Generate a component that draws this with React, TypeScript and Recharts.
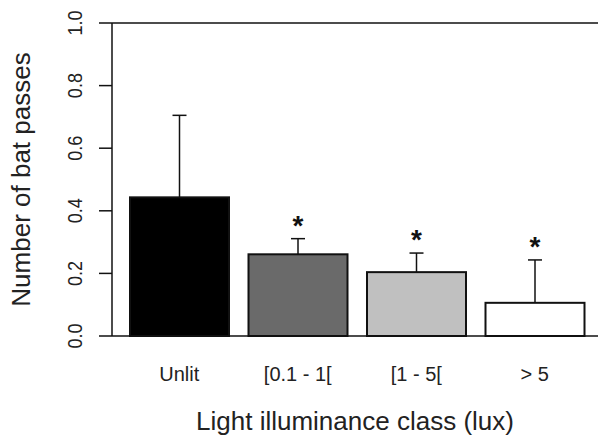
import React from 'react';
import { BarChart, Bar, XAxis, YAxis, ReferenceLine, Cell } from 'recharts';

const categories = ['Unlit', '[0.1 - 1[', '[1 - 5[', '> 5'];
const means = [0.443, 0.261, 0.204, 0.106];
const upperBounds = [0.705, 0.311, 0.265, 0.243];
const significant = [false, true, true, true];
const fills = ['#000000', '#6a6a6a', '#c0c0c0', '#ffffff'];
const yTicks = [0, 0.2, 0.4, 0.6, 0.8, 1.0];

const data = categories.map((name, i) => ({ name, value: means[i] }));

const FONT = '"Liberation Sans", Arial, sans-serif';
const TEXT = '#222222';

// bar + upper whisker + significance star
const BarWithError = (props: any) => {
  const { x, y, width, height, index } = props;
  const base = y + height;
  const pxPerUnit = height / means[index];
  const errY = base - upperBounds[index] * pxPerUnit;
  const cx = x + width / 2;
  return (
    <g>
      <line x1={cx} x2={cx} y1={y} y2={errY} stroke="#111" strokeWidth={1.5} />
      <line x1={cx - 7} x2={cx + 7} y1={errY} y2={errY} stroke="#111" strokeWidth={1.5} />
      <rect x={x} y={y} width={width} height={height} fill={fills[index]} stroke="#111" strokeWidth={2} />
      {significant[index] && (
        <text x={cx} y={errY - 4} textAnchor="middle" fontSize={28} fontWeight="bold" fontFamily={FONT} fill="#111">
          *
        </text>
      )}
    </g>
  );
};

// rotated, slightly condensed tick labels like the R original
const YTick = (props: any) => {
  const { x, y, payload } = props;
  const tx = x - 15;
  return (
    <text
      x={0}
      y={0}
      transform={`translate(${tx}, ${y}) rotate(-90) scale(0.86, 1)`}
      textAnchor="middle"
      fontSize={21}
      fontFamily={FONT}
      fill={TEXT}
    >
      {payload.value.toFixed(1)}
    </text>
  );
};

const XTick = (props: any) => {
  const { x, y, payload } = props;
  return (
    <text x={x} y={y + 37} textAnchor="middle" fontSize={20} fontFamily={FONT} fill={TEXT}>
      {payload.value}
    </text>
  );
};

export default function App() {
  return (
    <div style={{ position: 'absolute', left: 0, top: 0, background: '#fff' }}>
      <BarChart width={598} height={439} data={data} margin={{ top: 23, right: 0, left: 0, bottom: 0 }} barSize={99}>
        <XAxis
          dataKey="name"
          tick={<XTick />}
          tickLine={false}
          axisLine={{ stroke: '#111', strokeWidth: 1.5 }}
          padding={{ left: 8, right: 4 }}
          height={103}
          label={{ value: 'Light illuminance class (lux)', position: 'insideBottom', offset: 9, fontSize: 26, fontFamily: FONT, fill: TEXT }}
        />
        <YAxis
          domain={[0, 1]}
          ticks={yTicks}
          width={112}
          tickSize={13}
          tick={<YTick />}
          tickLine={{ stroke: '#111', strokeWidth: 1.5 }}
          axisLine={{ stroke: '#111', strokeWidth: 1.5 }}
          label={{ value: 'Number of bat passes', angle: -90, position: 'insideLeft', offset: 21, fontSize: 26, fontFamily: FONT, fill: TEXT, style: { textAnchor: 'middle' } }}
        />
        <ReferenceLine y={1} stroke="#111" strokeWidth={1.5} />
        <Bar dataKey="value" shape={<BarWithError />} isAnimationActive={false}>
          {data.map((d, i) => (
            <Cell key={d.name} fill={fills[i]} />
          ))}
        </Bar>
      </BarChart>
    </div>
  );
}
